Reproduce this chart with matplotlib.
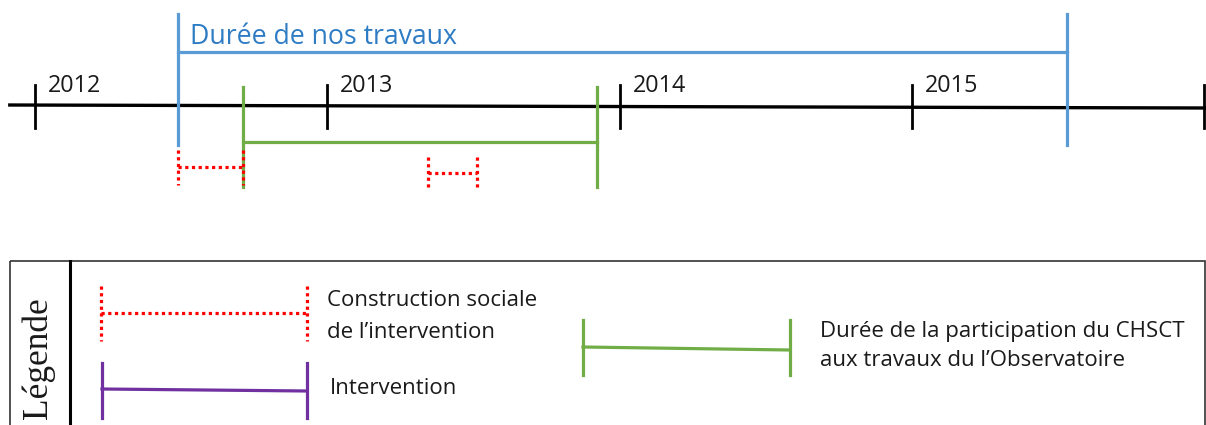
import matplotlib
matplotlib.use("Agg")
import matplotlib.pyplot as plt
from matplotlib.patches import Rectangle

# timeline data (decimal years)
years = [2012, 2013, 2014, 2015, 2016]
year_labels = ["2012", "2013", "2014", "2015", ""]
timeline_start = 2011.908
nos_travaux = (2012.489, 2015.531)
chsct = (2012.712, 2013.923)
construction = [(2012.489, 2012.712), (2013.345, 2013.512)]

BLUE = "#5B9BD5"
BLUE_TXT = "#2E7CC4"
GREEN = "#70AD47"
RED = "#FF0000"
PURPLE = "#7030A0"
TXT = "#1a1a1a"
FONT = "Open Sans"

W, H = 1206, 425
fig = plt.figure(figsize=(W / 100, H / 100), dpi=100)

# timeline axes: x in years, y in pixel rows
ax = fig.add_axes([0, 0, 1, 1])
px_per_year = (1204 - 35) / 4.0
ax.set_xlim(2012 - 35 / px_per_year, 2012 + (W - 35) / px_per_year)
ax.set_ylim(H, 0)
ax.axis("off")

# main axis
ax.plot([timeline_start, ax.get_xlim()[1]], [105, 108], color="black", lw=2.4,
        solid_capstyle="butt", zorder=2)
for y, lab in zip(years, year_labels):
    ax.plot([y, y], [85, 128], color="black", lw=2.0, zorder=2)
    if lab:
        ax.text(y + 13 / px_per_year, 86, lab, fontsize=16.8, family=FONT,
                color=TXT, ha="left", va="center")

# Durée de nos travaux
a, b = nos_travaux
ax.plot([a, a], [14, 145], color=BLUE, lw=2.3, zorder=3)
ax.plot([b, b], [14, 145], color=BLUE, lw=2.3, zorder=3)
ax.plot([a, b], [52, 52], color=BLUE, lw=2.3, zorder=3)
ax.text(a + 12 / px_per_year, 37, "Durée de nos travaux", fontsize=19.2,
        family=FONT, color=BLUE_TXT, ha="left", va="center")

# participation CHSCT
a, b = chsct
ax.plot([a, a], [87, 187], color=GREEN, lw=2.3, zorder=3)
ax.plot([b, b], [87, 187], color=GREEN, lw=2.3, zorder=3)
ax.plot([a, b], [142, 142], color=GREEN, lw=2.3, zorder=3)

# construction sociale (dotted)
dot = dict(color=RED, lw=2.3, linestyle=(0, (1, 1.1)), dash_capstyle="butt",
           zorder=4)
rows = [(150, 185, 167), (157, 189, 173)]
for (a, b), (y0, y1, ym) in zip(construction, rows):
    ax.plot([a, a], [y0, y1], **dot)
    ax.plot([b, b], [y0, y1], **dot)
    ax.plot([a, b], [ym, ym], **dot)

# legend panel (pixel coordinates)
lg = fig.add_axes([0, 0, 1, 1])
lg.set_xlim(0, W)
lg.set_ylim(H, 0)
lg.axis("off")
lg.add_patch(Rectangle((10, 261), 1195, 200, fill=False, ec="#333333",
                       lw=1.2, clip_on=True))
lg.plot([70, 70], [261, H], color="black", lw=2.2)
lg.text(38, 358, "Légende", rotation=90, fontsize=25.5,
        family="Liberation Serif", color=TXT, ha="center", va="center")

lg.plot([101, 101], [286, 341], **dot)
lg.plot([307, 307], [286, 341], **dot)
lg.plot([101, 307], [313, 313], **dot)
lg.text(327, 301, "Construction sociale", fontsize=16, family=FONT,
        color=TXT, ha="left", va="center")
lg.text(327, 332, "de l\u2019intervention", fontsize=16, family=FONT,
        color=TXT, ha="left", va="center")

lg.plot([102, 102], [363, 418], color=PURPLE, lw=2.3)
lg.plot([307, 307], [363, 418], color=PURPLE, lw=2.3)
lg.plot([102, 307], [389, 391], color=PURPLE, lw=2.3)
lg.text(330, 388, "Intervention", fontsize=16, family=FONT, color=TXT,
        ha="left", va="center")

lg.plot([583, 583], [320, 375], color=GREEN, lw=2.3)
lg.plot([790, 790], [320, 375], color=GREEN, lw=2.3)
lg.plot([583, 790], [347, 350], color=GREEN, lw=2.3)
lg.text(820, 331, "Durée de la participation du CHSCT", fontsize=16,
        family=FONT, color=TXT, ha="left", va="center")
lg.text(820, 360, "aux travaux du l\u2019Observatoire", fontsize=16,
        family=FONT, color=TXT, ha="left", va="center")

fig.savefig("out.png", dpi=100, facecolor="white")
